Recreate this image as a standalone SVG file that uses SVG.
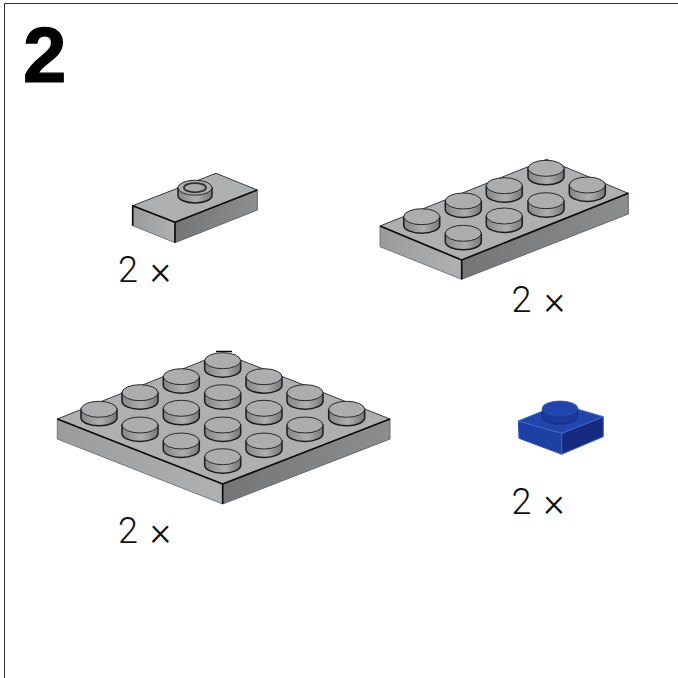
<svg xmlns="http://www.w3.org/2000/svg" width="678" height="678" viewBox="0 0 678 678">
<style>
.bg{fill:#fff}
.frame{fill:none;stroke:#333;stroke-width:1}
.title{font-family:"Liberation Sans",Arial,sans-serif;font-weight:700;font-size:78px;fill:#000;stroke:#000;stroke-width:1.2}
.qty{font-family:Roboto,"Liberation Sans",sans-serif;font-weight:300;font-size:36px;fill:#111}
.times{font-size:40px}
.top{fill:#aeafb1;stroke:#3a3a3c;stroke-width:1;stroke-linejoin:round}
.left{fill:url(#gl);stroke:#77787a;stroke-width:1;stroke-linejoin:round}
.right{fill:url(#gr);stroke:#66676a;stroke-width:1;stroke-linejoin:round}
.edge{fill:none;stroke:#111;stroke-width:1.7;stroke-linejoin:round}
.studside{fill:url(#gs);stroke:#1c1c1e;stroke-width:1.5}
.studtop{fill:#acadaf;stroke:#2a2a2a;stroke-width:1}
.soft{filter:url(#soft)}
.bt{fill:#2144ac;stroke:#3a66cc;stroke-width:1;stroke-linejoin:round}
.bl{fill:#1f40a4;stroke:#2c55b8;stroke-width:1;stroke-linejoin:round}
.br{fill:#142a80;stroke:#3a66cc;stroke-width:1;stroke-linejoin:round}
.bs{fill:#1b389a;stroke:#16307e;stroke-width:1}
.bst{fill:#2144ac;stroke:#2c55b8;stroke-width:.8}
</style>
<defs>
<filter id="soft" x="-5%" y="-5%" width="110%" height="110%"><feGaussianBlur stdDeviation="0.4"/></filter>
<linearGradient id="gl" x1="0" y1="0" x2="1" y2="0"><stop offset="0" stop-color="#9a9b9d"/><stop offset="1" stop-color="#b0b1b3"/></linearGradient>
<linearGradient id="gr" x1="0" y1="0" x2="1" y2="0"><stop offset="0" stop-color="#747577"/><stop offset="1" stop-color="#8c8d8f"/></linearGradient>
<linearGradient id="gs" x1="0" y1="0" x2="1" y2="0"><stop offset="0" stop-color="#858688"/><stop offset=".55" stop-color="#aeafb1"/><stop offset="1" stop-color="#767779"/></linearGradient>
<g id="stud">
<path class="studside" d="M-18 0V8.5A18 8 0 0 0 18 8.5V0Z"/>
<ellipse class="studtop" rx="18" ry="8"/>
</g>
</defs>
<rect class="bg" width="678" height="678"/>
<path class="frame" d="M4.5 678V3.5H678"/>
<text class="title" x="23" y="82">2</text>

<g id="plate-1x2">
<g class="soft">
<path class="left" d="M132.7 205.7L175 222.3V242.7L132.7 225.7Z"/>
<path class="right" d="M175 222.3L257.3 190V210L175 242.7Z"/>
<path class="top" d="M132.7 205.7L216 173.3L257.3 190L175 222.3Z"/>
<path class="edge" d="M132.7 225.7V205.7L175 222.3V242.7M175 222.3L257.3 190"/>
<path class="studside" d="M178 187.7V195.5A17 7.5 0 0 0 212 195.5V187.7Z"/>
<ellipse class="studtop" cx="195" cy="187.7" rx="17" ry="7.5"/>
<ellipse cx="195" cy="187.7" rx="11" ry="4.6" fill="#a9aaac" stroke="#333" stroke-width="1.8"/>
</g>
<text class="qty" x="118" y="282">2</text><text class="qty times" x="150" y="284">×</text>
</g>

<g id="plate-2x4">
<g class="soft">
<path class="left" d="M380 226L461.7 260V279.3L380 246.7Z"/>
<path class="right" d="M461.7 260L628.3 193.3V214L461.7 279.3Z"/>
<path class="top" d="M380 226L546.6 159.3L628.3 193.3L461.7 260Z"/>
<path class="edge" d="M380 226L461.7 260L628.3 193.3M461.7 260V279.3"/>
<use href="#stud" x="546" y="168.3"/>
<use href="#stud" x="504.3" y="185.7"/>
<use href="#stud" x="587.3" y="185"/>
<use href="#stud" x="463.3" y="201"/>
<use href="#stud" x="546" y="200.7"/>
<use href="#stud" x="421.7" y="216.7"/>
<use href="#stud" x="504.3" y="216"/>
<use href="#stud" x="463.3" y="233.3"/>
</g>
<text class="qty" x="511.5" y="311.5">2</text><text class="qty times" x="544" y="313.5">×</text>
</g>

<g id="plate-4x4">
<g class="soft">
<path class="left" d="M57.3 419L222.7 484V504L57.3 439Z"/>
<path class="right" d="M222.7 484L390 419V439L222.7 504Z"/>
<path class="top" d="M57.3 419L222.7 353L390 419L222.7 484Z"/>
<path class="edge" d="M57.3 419L222.7 484L390 419M222.7 484V504"/>
<path d="M216 351.5H232" stroke="#111" stroke-width="1.5"/>
<use href="#stud" x="222.7" y="360.7"/>
<use href="#stud" x="181.3" y="376.7"/>
<use href="#stud" x="264" y="376.7"/>
<use href="#stud" x="140" y="392.7"/>
<use href="#stud" x="222.7" y="392.7"/>
<use href="#stud" x="305" y="392.7"/>
<use href="#stud" x="99" y="409.3"/>
<use href="#stud" x="181.3" y="408.3"/>
<use href="#stud" x="264" y="408.3"/>
<use href="#stud" x="346.7" y="409.3"/>
<use href="#stud" x="140" y="425"/>
<use href="#stud" x="222.7" y="425"/>
<use href="#stud" x="305" y="425"/>
<use href="#stud" x="181.3" y="441"/>
<use href="#stud" x="264" y="441"/>
<use href="#stud" x="222.7" y="456.7"/>
</g>
<text class="qty" x="118" y="542.5">2</text><text class="qty times" x="150" y="544.5">×</text>
</g>

<g id="plate-1x1-blue">
<g class="soft">
<path class="bl" d="M518.3 421L561.7 433.3V454.3L519 438.3Z"/>
<path class="br" d="M561.7 433.3L603.3 416.7V436.7L561.7 454.3Z"/>
<path class="bt" d="M518.3 421L560 404L603.3 416.7L561.7 433.3Z"/>
<path class="bs" d="M542.3 408.3V417A17.7 7.3 0 0 0 577.7 417V408.3Z"/>
<ellipse class="bst" cx="560" cy="408.3" rx="17.7" ry="7.3"/>
</g>
<text class="qty" x="511.5" y="514">2</text><text class="qty times" x="543.5" y="516">×</text>
</g>
<g id="connectors"/>
</svg>
